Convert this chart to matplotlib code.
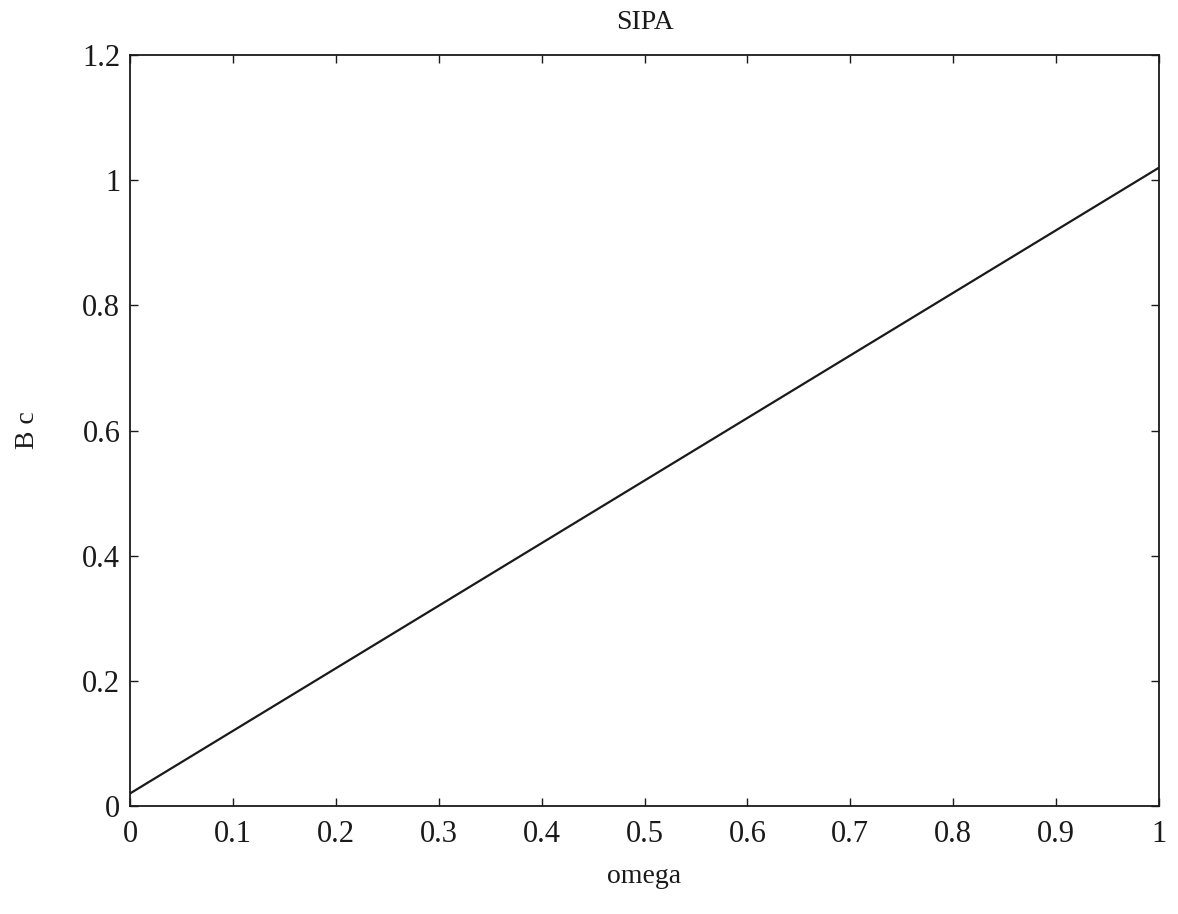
import matplotlib
matplotlib.use("Agg")
import matplotlib.pyplot as plt

omega = [0.0, 0.1, 0.2, 0.3, 0.4, 0.5, 0.6, 0.7, 0.8, 0.9, 1.0]
bc = [0.02, 0.12, 0.22, 0.32, 0.42, 0.52, 0.62, 0.72, 0.82, 0.92, 1.02]
xticks = [0, 0.1, 0.2, 0.3, 0.4, 0.5, 0.6, 0.7, 0.8, 0.9, 1]
xticklabels = ["0", "0.1", "0.2", "0.3", "0.4", "0.5", "0.6", "0.7", "0.8", "0.9", "1"]
yticks = [0, 0.2, 0.4, 0.6, 0.8, 1.0, 1.2]
yticklabels = ["0", "0.2", "0.4", "0.6", "0.8", "1", "1.2"]

plt.rcParams['font.family'] = ['Liberation Serif', 'DejaVu Serif']

fig = plt.figure(figsize=(11.78, 9.14), dpi=100)
ax = fig.add_axes([130/1178, 1 - 806/914, (1159-130)/1178, (806-55)/914])
ax.plot(omega, bc, color='#1a1a1a', linewidth=1.6)
ax.set_xlim(0, 1)
ax.set_ylim(0, 1.2)
ax.set_xticks(xticks)
ax.set_xticklabels(xticklabels)
ax.set_yticks(yticks)
ax.set_yticklabels(yticklabels)
ax.tick_params(direction='in', length=6, width=1.0, labelsize=22, top=True, right=True,
               colors='#1a1a1a', pad=7)
ax.tick_params(axis='x', pad=10)
for s in ax.spines.values():
    s.set_linewidth(1.3)
    s.set_color('#1a1a1a')
ax.set_title("SIPA", fontsize=20, pad=19, color='#1a1a1a')
ax.set_xlabel("omega", fontsize=20, labelpad=11, color='#1a1a1a')
ax.set_ylabel("B c", fontsize=20, labelpad=30, color='#1a1a1a')

fig.savefig("out.png", dpi=100)
